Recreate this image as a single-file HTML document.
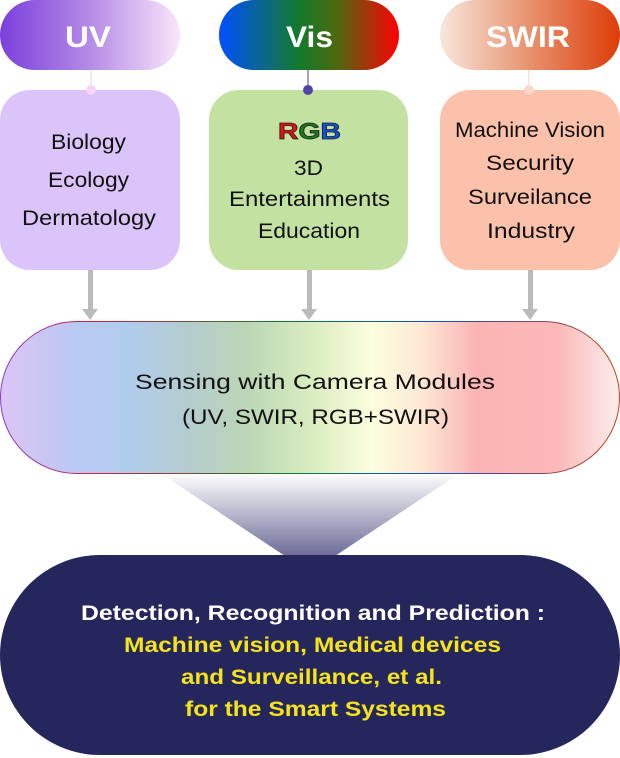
<!DOCTYPE html>
<html><head><meta charset="utf-8"><style>
html,body{margin:0;padding:0;background:#fff;}
svg{display:block;}
text{font-family:"Liberation Sans",sans-serif;}
</style></head><body>
<svg width="620" height="758" viewBox="0 0 620 758" xmlns="http://www.w3.org/2000/svg">
<defs>
<linearGradient id="uv" x1="0" x2="1"><stop offset="0" stop-color="#7b3fdc"/><stop offset="0.5" stop-color="#b58be6"/><stop offset="1" stop-color="#f9e6fb"/></linearGradient>
<linearGradient id="vis" x1="0" x2="1"><stop offset="0" stop-color="#0050ff"/><stop offset="0.45" stop-color="#137a2a"/><stop offset="0.65" stop-color="#4a6a10"/><stop offset="1" stop-color="#ff0000"/></linearGradient>
<linearGradient id="sw" x1="0" x2="1"><stop offset="0" stop-color="#f8e6dc"/><stop offset="0.45" stop-color="#e99a78"/><stop offset="1" stop-color="#dd3c08"/></linearGradient>
<linearGradient id="sens" x1="0" x2="1"><stop offset="0" stop-color="#dcc4f4"/><stop offset="0.12" stop-color="#bac8f2"/><stop offset="0.2" stop-color="#b0ccee"/><stop offset="0.3" stop-color="#b4ccd0"/><stop offset="0.4" stop-color="#bcd6b6"/><stop offset="0.5" stop-color="#d8ecbe"/><stop offset="0.6" stop-color="#fcfede"/><stop offset="0.68" stop-color="#fde8d4"/><stop offset="0.77" stop-color="#fbb4b4"/><stop offset="0.9" stop-color="#fbb8b8"/><stop offset="1" stop-color="#fdeeee"/></linearGradient>
<linearGradient id="sensb" x1="0" x2="1"><stop offset="0" stop-color="#8040d0"/><stop offset="0.15" stop-color="#d02040"/><stop offset="0.45" stop-color="#1a7a2a"/><stop offset="0.7" stop-color="#1050d0"/><stop offset="1" stop-color="#d04010"/></linearGradient>
<linearGradient id="fun" x1="0" x2="0" y1="0" y2="1"><stop offset="0" stop-color="#ffffff"/><stop offset="1" stop-color="#6c6c98"/></linearGradient>
</defs>
<rect x="0" y="0" width="180" height="70" rx="35" fill="url(#uv)"/>
<rect x="219" y="0" width="180" height="70" rx="35" fill="url(#vis)"/>
<rect x="440" y="0" width="180" height="70" rx="35" fill="url(#sw)"/>
<g font-size="30" font-weight="bold" fill="#fff" lengthAdjust="spacingAndGlyphs">
<text x="65" y="47" textLength="46" lengthAdjust="spacingAndGlyphs">UV</text>
<text x="286" y="47" textLength="47" lengthAdjust="spacingAndGlyphs">Vis</text>
<text x="486" y="47" textLength="84" lengthAdjust="spacingAndGlyphs">SWIR</text>
</g>
<line x1="91" y1="70" x2="91" y2="90" stroke="#f5c8e8" stroke-width="1"/>
<line x1="308" y1="70" x2="308" y2="90" stroke="#4a3fa0" stroke-width="1"/>
<line x1="529" y1="70" x2="529" y2="90" stroke="#f4cfc0" stroke-width="1"/>
<rect x="0" y="90" width="180" height="180" rx="30" fill="#dbc4f9"/>
<rect x="209" y="90" width="199" height="180" rx="30" fill="#c3e2a2"/>
<rect x="440" y="90" width="180" height="180" rx="30" fill="#fcc1aa"/>
<circle cx="91" cy="90" r="5" fill="#f7d6f5"/>
<circle cx="308" cy="90" r="5" fill="#5444a8"/>
<circle cx="529" cy="90" r="5" fill="#f8d8cc"/>
<g font-size="21" fill="#111">
<text x="51" y="149" textLength="75" lengthAdjust="spacingAndGlyphs">Biology</text>
<text x="48" y="187" textLength="81" lengthAdjust="spacingAndGlyphs">Ecology</text>
<text x="22" y="225" textLength="134" lengthAdjust="spacingAndGlyphs">Dermatology</text>
<text x="278" y="139" font-weight="bold" font-size="23" stroke="#222" stroke-width="0.8" textLength="63" lengthAdjust="spacingAndGlyphs"><tspan fill="#e81010">R</tspan><tspan fill="#1b7a1b">G</tspan><tspan fill="#1050e0">B</tspan></text>
<text x="294" y="175" textLength="29" lengthAdjust="spacingAndGlyphs">3D</text>
<text x="229" y="206" textLength="161" lengthAdjust="spacingAndGlyphs">Entertainments</text>
<text x="258" y="238" textLength="102" lengthAdjust="spacingAndGlyphs">Education</text>
<text x="455" y="137" textLength="150" lengthAdjust="spacingAndGlyphs">Machine Vision</text>
<text x="486" y="170" textLength="88" lengthAdjust="spacingAndGlyphs">Security</text>
<text x="468" y="204" textLength="124" lengthAdjust="spacingAndGlyphs">Surveilance</text>
<text x="487" y="238" textLength="88" lengthAdjust="spacingAndGlyphs">Industry</text>
</g>
<g fill="#bbbbbb">
<rect x="88" y="270" width="5" height="40"/><polygon points="82,309 98,309 90,320"/>
<rect x="307" y="270" width="5" height="40"/><polygon points="301,309 317,309 309,320"/>
<rect x="528" y="270" width="5" height="40"/><polygon points="522,309 538,309 530,320"/>
</g>
<polygon points="160,473 460,473 335,556 285,556" fill="url(#fun)"/>
<rect x="0.5" y="321.5" width="619" height="152" rx="76" fill="url(#sens)" stroke="url(#sensb)" stroke-width="1"/>
<text x="135" y="389" font-size="21" fill="#111" textLength="360" lengthAdjust="spacingAndGlyphs">Sensing with Camera Modules</text>
<text x="182" y="424" font-size="21" fill="#111" textLength="267" lengthAdjust="spacingAndGlyphs">(UV, SWIR, RGB+SWIR)</text>
<rect x="0" y="555" width="620" height="200" rx="100" fill="#25265c"/>
<g font-size="21" font-weight="bold">
<text x="81" y="620" fill="#fff" textLength="464" lengthAdjust="spacingAndGlyphs">Detection, Recognition and Prediction :</text>
<text x="124" y="652" fill="#f5e418" textLength="377" lengthAdjust="spacingAndGlyphs">Machine vision, Medical devices</text>
<text x="181" y="684" fill="#f5e418" textLength="261" lengthAdjust="spacingAndGlyphs">and Surveillance, et al.</text>
<text x="185" y="716" fill="#f5e418" textLength="261" lengthAdjust="spacingAndGlyphs">for the Smart Systems</text>
</g>
</svg>
</body></html>
